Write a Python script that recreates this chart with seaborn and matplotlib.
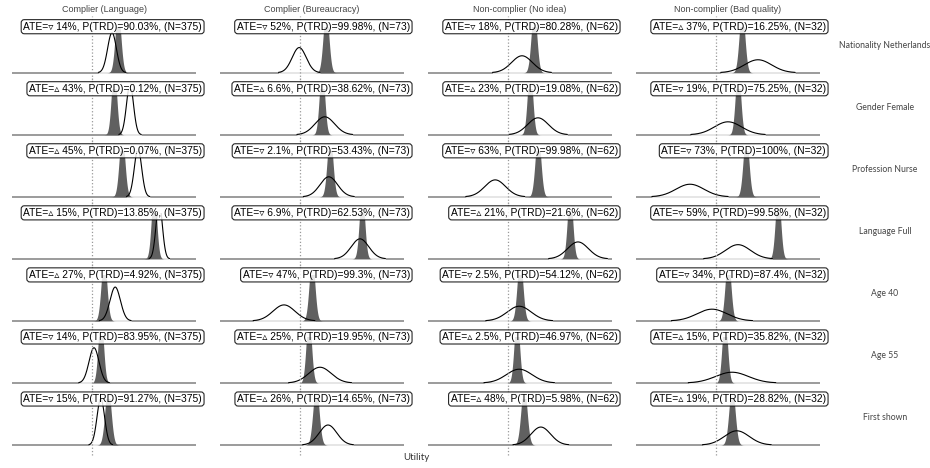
import numpy as np
import matplotlib
matplotlib.use("Agg")
import matplotlib.pyplot as plt
import seaborn as sns

sns.set_style("white")
plt.rcParams['font.family'] = ['Liberation Sans', 'DejaVu Sans']

col_titles = ['Complier (Language)', 'Complier (Bureaucracy)',
              'Non-complier (No idea)', 'Non-complier (Bad quality)']
row_labels = ['Nationality Netherlands', 'Gender Female', 'Profession Nurse',
              'Language Full', 'Age 40', 'Age 55', 'First shown']
col_n = [375, 73, 62, 32]

# overall posterior (gray) for each attribute level, utility scale
ref_mean = [0.65, 0.55, 0.75, 1.55, 0.30, 0.22, 0.40]
ref_sd = [0.07, 0.065, 0.07, 0.065, 0.07, 0.065, 0.075]

# subgroup posteriors (black outline), rows top to bottom
lang_mean = [0.50, 0.95, 1.15, 1.68, 0.58, 0.05, 0.22]
lang_sd = [0.11, 0.088, 0.092, 0.08, 0.13, 0.125, 0.095]
bureau_mean = [-0.02, 0.62, 0.72, 1.50, -0.40, 0.50, 0.70]
bureau_sd = [0.175, 0.245, 0.22, 0.22, 0.275, 0.28, 0.22]
noidea_mean = [0.35, 0.75, -0.32, 1.75, 0.28, 0.28, 0.82]
noidea_sd = [0.26, 0.26, 0.26, 0.26, 0.30, 0.32, 0.245]
badq_mean = [1.05, 0.30, -0.65, 0.55, -0.10, 0.40, 0.52]
badq_sd = [0.34, 0.34, 0.35, 0.31, 0.375, 0.41, 0.31]

# ATE in percent (negative = down triangle) and P(TRD) in percent
lang_ate = [-14, 43, 45, 15, 27, -14, -15]
lang_ptrd = [90.03, 0.12, 0.07, 13.85, 4.92, 83.95, 91.27]
bureau_ate = [-52, 6.6, -2.1, -6.9, -47, 25, 26]
bureau_ptrd = [99.98, 38.62, 53.43, 62.53, 99.3, 19.95, 14.65]
noidea_ate = [-18, 23, -63, 21, -2.5, 2.5, 48]
noidea_ptrd = [80.28, 19.08, 99.98, 21.6, 54.12, 46.97, 5.98]
badq_ate = [37, -19, -73, -59, -34, 15, 19]
badq_ptrd = [16.25, 75.25, 100, 99.58, 87.4, 35.82, 28.82]

sub_means = [lang_mean, bureau_mean, noidea_mean, badq_mean]
sub_sds = [lang_sd, bureau_sd, noidea_sd, badq_sd]
ates = [lang_ate, bureau_ate, noidea_ate, badq_ate]
ptrds = [lang_ptrd, bureau_ptrd, noidea_ptrd, badq_ptrd]


def normal_pdf(x, m, s):
    return np.exp(-0.5 * ((x - m) / s) ** 2) / (s * np.sqrt(2 * np.pi))


W, H = 930, 468
fig = plt.figure(figsize=(W / 100, H / 100), dpi=100)

x = np.linspace(-2.0, 2.6, 800)
px_per_y = 11.03          # pixels per density unit
col_left = [12, 220, 428, 636]
panel_w = 184
base0, step = 72.7, 62.05

for r, lab in enumerate(row_labels):
    base = base0 + step * r
    for c in range(4):
        ax = fig.add_axes([col_left[c] / W, 1 - (base + 4) / H, panel_w / W, 50 / H])
        ax.set_xlim(-2.0, 2.6)
        ax.set_ylim(-4 / px_per_y, 46 / px_per_y)
        ax.axis('off')

        g = normal_pdf(x, ref_mean[r], ref_sd[r])
        b = normal_pdf(x, sub_means[c][r], sub_sds[c][r])
        mask = b * px_per_y > 0.3

        ax.axhline(0, color='#808080', lw=1.1, zorder=1)
        ax.fill_between(x[mask], -1 / px_per_y, b[mask], color='white', alpha=0.75, lw=0, zorder=2)
        ax.fill_between(x, 0, g, color='#606060', lw=0, zorder=3)
        sns.lineplot(x=x[mask], y=b[mask], color='black', lw=0.8, ax=ax, zorder=4)
        ax.axvline(0, ymin=-0.12, ymax=1.22, color='#999999', lw=0.9, ls=':', clip_on=False, zorder=5)

        ate = ates[c][r]
        tri = '▿' if ate < 0 else '▵'
        txt = f"ATE={tri} {abs(ate):g}%, P(TRD)={ptrds[c][r]:g}%, (N={col_n[c]})"
        ax.text(1 + 6 / panel_w, 1.0, txt, transform=ax.transAxes, ha='right', va='center',
                fontsize=7.4, color='black', zorder=6,
                bbox=dict(boxstyle='round,pad=0.2,rounding_size=0.3', fc='white', ec='black',
                          lw=0.8, alpha=0.85))

    fig.text(885 / W, 1 - (base - 27) / H, lab, ha='center', va='center',
             fontsize=6.2, color='#444444', family=['Lato', 'DejaVu Sans'])

for c, t in enumerate(col_titles):
    fig.text((col_left[c] + panel_w / 2) / W, 1 - 10 / H, t, ha='center', va='center',
             fontsize=6.5, color='#444444')

fig.text(416 / W, 1 - 457 / H, 'Utility', ha='center', va='center',
         fontsize=7, color='#333333', family=['Lato', 'DejaVu Sans'])

fig.savefig('out.png', dpi=100)
